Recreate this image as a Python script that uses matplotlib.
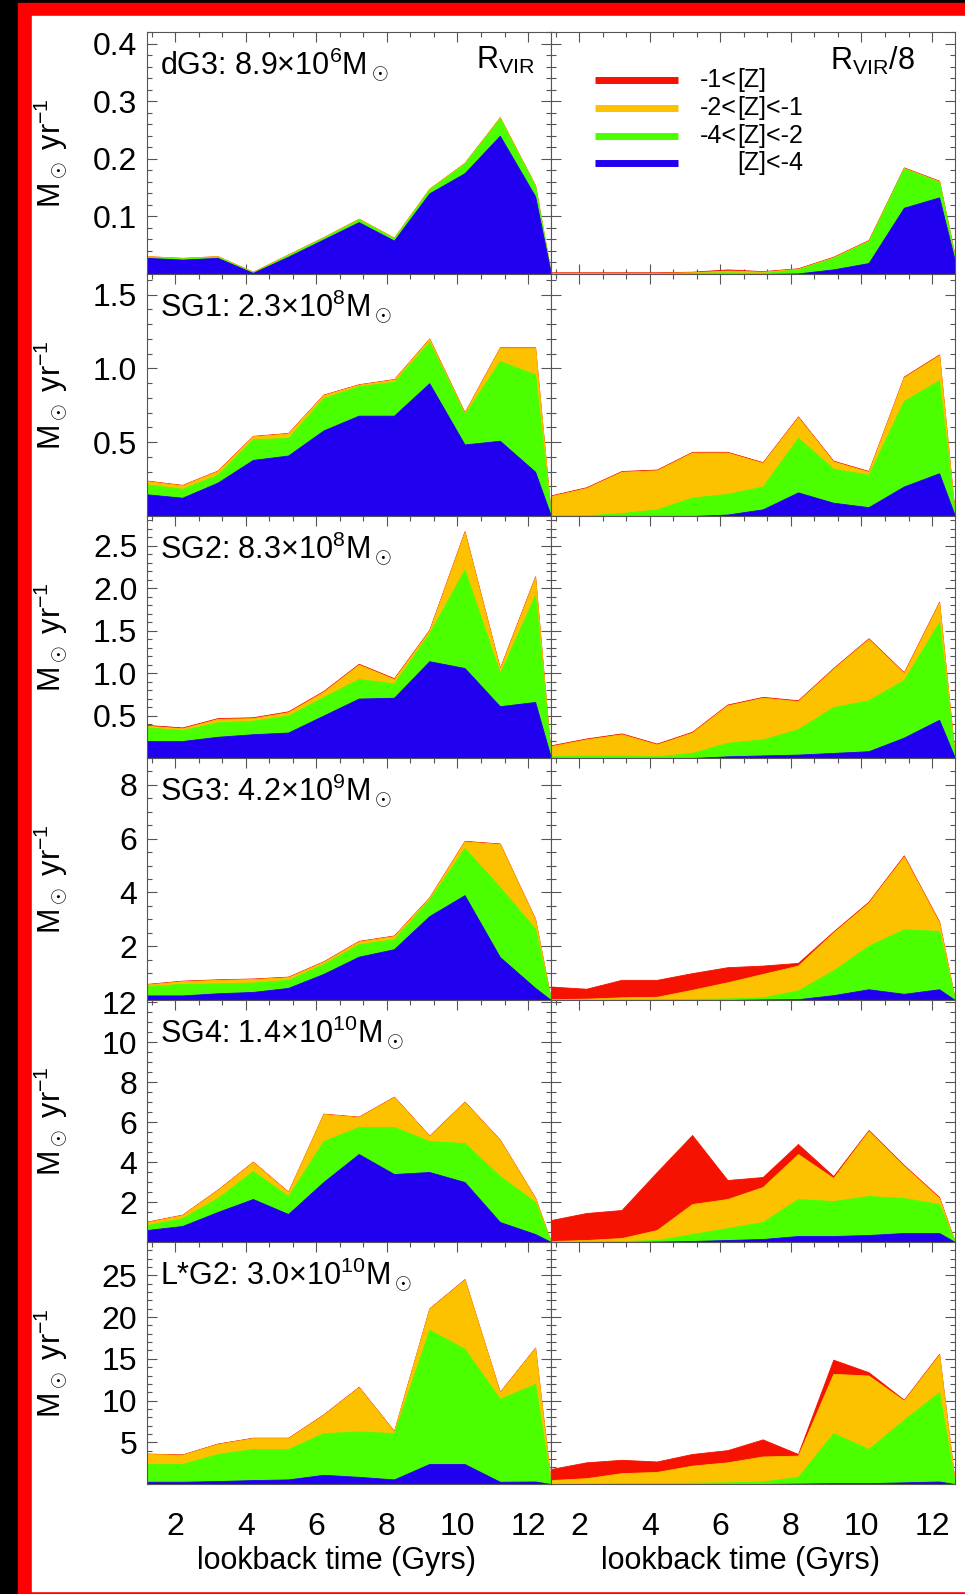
import matplotlib
matplotlib.use('Agg')
import matplotlib.pyplot as plt
from matplotlib.patches import Rectangle
from matplotlib.ticker import MultipleLocator, FixedLocator

plt.rcParams['font.family'] = ['Liberation Sans', 'DejaVu Sans']
plt.rcParams['mathtext.fontset'] = 'custom'
plt.rcParams['mathtext.rm'] = 'Liberation Sans'
plt.rcParams['mathtext.it'] = 'Liberation Sans:italic'
plt.rcParams['mathtext.bf'] = 'Liberation Sans:bold'

# lookback time of each output (Gyr)
t = [1.2, 2.2, 3.2, 4.2, 5.2, 6.2, 7.2, 8.2, 9.2, 10.2, 11.2, 12.2, 12.65]

# cumulative tops of each metallicity band: blue ([Z]<-4), green, orange, red
dg3_vir_blue = [0.028, 0.025, 0.028, 0.002, 0.030, 0.060, 0.090, 0.058, 0.140, 0.175, 0.240, 0.135, 0]
dg3_vir_green = [0.030, 0.027, 0.030, 0.003, 0.033, 0.063, 0.095, 0.062, 0.147, 0.192, 0.270, 0.152, 0]
dg3_vir_orange = [0.031, 0.028, 0.031, 0.004, 0.034, 0.064, 0.096, 0.063, 0.148, 0.193, 0.272, 0.154, 0]
dg3_vir_red = [0.031, 0.028, 0.031, 0.004, 0.034, 0.064, 0.096, 0.063, 0.148, 0.193, 0.272, 0.154, 0]
dg3_in_blue = [0, 0, 0, 0, 0, 0, 0, 0.001, 0.008, 0.019, 0.115, 0.133, 0.022]
dg3_in_green = [0.001, 0.001, 0.001, 0.001, 0.002, 0.003, 0.002, 0.008, 0.028, 0.057, 0.183, 0.160, 0.028]
dg3_in_orange = [0.002, 0.002, 0.002, 0.002, 0.003, 0.006, 0.004, 0.009, 0.029, 0.058, 0.184, 0.161, 0.029]
dg3_in_red = [0.003, 0.003, 0.003, 0.003, 0.004, 0.008, 0.005, 0.010, 0.030, 0.059, 0.185, 0.162, 0.030]

sg1_vir_blue = [0.147, 0.124, 0.226, 0.38, 0.41, 0.58, 0.68, 0.68, 0.90, 0.485, 0.51, 0.30, 0]
sg1_vir_green = [0.214, 0.185, 0.28, 0.52, 0.53, 0.80, 0.88, 0.91, 1.18, 0.69, 1.05, 0.96, 0]
sg1_vir_orange = [0.237, 0.208, 0.305, 0.54, 0.56, 0.82, 0.89, 0.925, 1.20, 0.70, 1.14, 1.14, 0]
sg1_vir_red = [0.240, 0.211, 0.308, 0.543, 0.563, 0.823, 0.893, 0.928, 1.203, 0.703, 1.143, 1.143, 0]
sg1_in_blue = [0, 0, 0, 0, 0, 0.01, 0.045, 0.16, 0.09, 0.06, 0.20, 0.29, 0]
sg1_in_green = [0.003, 0.005, 0.02, 0.045, 0.125, 0.15, 0.20, 0.53, 0.32, 0.28, 0.78, 0.92, 0]
sg1_in_orange = [0.135, 0.19, 0.30, 0.31, 0.43, 0.43, 0.36, 0.67, 0.37, 0.30, 0.94, 1.09, 0]
sg1_in_red = [0.14, 0.195, 0.305, 0.315, 0.435, 0.435, 0.365, 0.675, 0.375, 0.305, 0.945, 1.095, 0]

sg2_vir_blue = [0.20, 0.20, 0.25, 0.28, 0.30, 0.50, 0.70, 0.71, 1.14, 1.06, 0.61, 0.66, 0]
sg2_vir_green = [0.36, 0.33, 0.42, 0.44, 0.50, 0.72, 0.93, 0.88, 1.47, 2.22, 1.00, 1.92, 0]
sg2_vir_orange = [0.38, 0.35, 0.46, 0.47, 0.54, 0.78, 1.10, 0.93, 1.50, 2.66, 1.05, 2.13, 0]
sg2_vir_red = [0.39, 0.36, 0.47, 0.48, 0.55, 0.79, 1.11, 0.94, 1.51, 2.67, 1.06, 2.14, 0]
sg2_in_blue = [0, 0, 0, 0, 0, 0.02, 0.03, 0.04, 0.06, 0.08, 0.24, 0.45, 0]
sg2_in_green = [0.02, 0.03, 0.03, 0.02, 0.06, 0.18, 0.22, 0.34, 0.60, 0.68, 0.92, 1.60, 0]
sg2_in_orange = [0.14, 0.22, 0.28, 0.16, 0.30, 0.62, 0.71, 0.67, 1.05, 1.40, 1.00, 1.83, 0]
sg2_in_red = [0.15, 0.23, 0.29, 0.17, 0.31, 0.63, 0.72, 0.68, 1.06, 1.41, 1.01, 1.84, 0]

sg3_vir_blue = [0.17, 0.17, 0.25, 0.30, 0.45, 0.97, 1.61, 1.89, 3.12, 3.90, 1.60, 0.45, 0]
sg3_vir_green = [0.52, 0.60, 0.62, 0.65, 0.75, 1.34, 2.08, 2.26, 3.74, 5.65, 4.20, 2.65, 0]
sg3_vir_orange = [0.58, 0.70, 0.75, 0.78, 0.85, 1.42, 2.18, 2.38, 3.80, 5.90, 5.80, 3.00, 0]
sg3_vir_red = [0.60, 0.72, 0.77, 0.80, 0.87, 1.44, 2.20, 2.40, 3.82, 5.92, 5.82, 3.02, 0]
sg3_in_blue = [0, 0, 0, 0, 0, 0, 0.02, 0.03, 0.18, 0.40, 0.23, 0.40, 0]
sg3_in_green = [0, 0, 0.01, 0.02, 0.04, 0.06, 0.10, 0.36, 1.10, 2.02, 2.63, 2.57, 0]
sg3_in_orange = [0.03, 0.05, 0.10, 0.12, 0.38, 0.66, 0.97, 1.28, 2.51, 3.62, 5.34, 2.88, 0]
sg3_in_red = [0.50, 0.42, 0.75, 0.75, 1.00, 1.22, 1.28, 1.38, 2.55, 3.66, 5.38, 2.92, 0]

sg4_vir_blue = [0.6, 0.8, 1.5, 2.15, 1.4, 3.0, 4.4, 3.4, 3.5, 3.0, 1.0, 0.4, 0]
sg4_vir_green = [0.85, 1.2, 2.2, 3.55, 2.3, 5.05, 5.75, 5.75, 5.05, 4.95, 3.3, 2.0, 0]
sg4_vir_orange = [1.0, 1.35, 2.6, 4.0, 2.5, 6.4, 6.25, 7.25, 5.3, 7.0, 5.1, 2.2, 0]
sg4_vir_red = [1.02, 1.37, 2.62, 4.02, 2.52, 6.42, 6.27, 7.27, 5.32, 7.02, 5.12, 2.22, 0]
sg4_in_blue = [0, 0, 0, 0.02, 0.05, 0.1, 0.15, 0.3, 0.3, 0.35, 0.45, 0.45, 0]
sg4_in_green = [0, 0.02, 0.05, 0.1, 0.4, 0.7, 1.0, 2.15, 2.05, 2.3, 2.2, 1.9, 0]
sg4_in_orange = [0.05, 0.1, 0.2, 0.6, 1.9, 2.15, 2.75, 4.4, 3.2, 5.55, 3.8, 2.2, 0]
sg4_in_red = [1.1, 1.45, 1.6, 3.5, 5.35, 3.1, 3.25, 4.9, 3.3, 5.6, 3.85, 2.25, 0]

lg2_vir_blue = [0.27, 0.27, 0.35, 0.47, 0.55, 1.1, 0.86, 0.55, 2.4, 2.4, 0.27, 0.3, 0]
lg2_vir_green = [2.4, 2.4, 3.6, 4.2, 4.2, 6.1, 6.3, 6.1, 18.5, 16.2, 10.2, 12.0, 0]
lg2_vir_orange = [3.6, 3.5, 4.8, 5.5, 5.5, 8.3, 11.6, 6.3, 21.0, 24.5, 11.0, 16.3, 0]
lg2_vir_red = [3.65, 3.55, 4.85, 5.55, 5.55, 8.35, 11.65, 6.35, 21.05, 24.55, 11.05, 16.35, 0]
lg2_in_blue = [0, 0, 0, 0, 0, 0, 0, 0.05, 0.1, 0.1, 0.2, 0.3, 0]
lg2_in_green = [0.02, 0.05, 0.1, 0.1, 0.15, 0.2, 0.3, 0.86, 6.1, 4.2, 7.7, 11.0, 0]
lg2_in_orange = [0.47, 0.7, 1.3, 1.45, 2.2, 2.6, 3.3, 3.4, 13.2, 13.0, 10.0, 15.5, 0]
lg2_in_red = [1.8, 2.6, 2.9, 2.7, 3.6, 4.06, 5.35, 3.6, 14.9, 13.4, 10.1, 15.6, 0]

names = ['dG3: 8.9$\\times$10$^6$M$_\\odot$',
         'SG1: 2.3$\\times$10$^8$M$_\\odot$',
         'SG2: 8.3$\\times$10$^8$M$_\\odot$',
         'SG3: 4.2$\\times$10$^9$M$_\\odot$',
         'SG4: 1.4$\\times$10$^{10}$M$_\\odot$',
         'L*G2: 3.0$\\times$10$^{10}$M$_\\odot$']
ytop = [0.42, 1.64, 2.85, 9.0, 12.1, 29.0]
yticks = [[0.1, 0.2, 0.3, 0.4], [0.5, 1.0, 1.5], [0.5, 1.0, 1.5, 2.0, 2.5],
          [2, 4, 6, 8], [2, 4, 6, 8, 10, 12], [5, 10, 15, 20, 25]]
ytlabels = [['0.1', '0.2', '0.3', '0.4'], ['0.5', '1.0', '1.5'],
            ['0.5', '1.0', '1.5', '2.0', '2.5'], ['2', '4', '6', '8'],
            ['2', '4', '6', '8', '10', '12'], ['5', '10', '15', '20', '25']]
yminor = [0.02, 0.1, 0.1, 0.5, 0.5, 1.0]

vir = [[dg3_vir_blue, dg3_vir_green, dg3_vir_orange, dg3_vir_red],
       [sg1_vir_blue, sg1_vir_green, sg1_vir_orange, sg1_vir_red],
       [sg2_vir_blue, sg2_vir_green, sg2_vir_orange, sg2_vir_red],
       [sg3_vir_blue, sg3_vir_green, sg3_vir_orange, sg3_vir_red],
       [sg4_vir_blue, sg4_vir_green, sg4_vir_orange, sg4_vir_red],
       [lg2_vir_blue, lg2_vir_green, lg2_vir_orange, lg2_vir_red]]
inner = [[dg3_in_blue, dg3_in_green, dg3_in_orange, dg3_in_red],
         [sg1_in_blue, sg1_in_green, sg1_in_orange, sg1_in_red],
         [sg2_in_blue, sg2_in_green, sg2_in_orange, sg2_in_red],
         [sg3_in_blue, sg3_in_green, sg3_in_orange, sg3_in_red],
         [sg4_in_blue, sg4_in_green, sg4_in_orange, sg4_in_red],
         [lg2_in_blue, lg2_in_green, lg2_in_orange, lg2_in_red]]

colors = ['#2100f0', '#4cff00', '#fcc200', '#f51200']
leg_labels = [('-1<', '[Z]'), ('-2<', '[Z]<-1'), ('-4<', '[Z]<-2'), ('', '[Z]<-4')]

W, H = 965, 1594
fig = plt.figure(figsize=(W / 100, H / 100), dpi=100, facecolor='black')
fig.patches.append(Rectangle((18 / W, 0), 947 / W, 1591 / H, transform=fig.transFigure,
                             figure=fig, color='#ff0000', zorder=-3))
fig.patches.append(Rectangle((32 / W, 3 / H), 933 / W, 1575 / H, transform=fig.transFigure,
                             figure=fig, color='white', zorder=-2))

left_x = [147, 551]
pw, ph = 404, 242
top0 = 32
fs = 22
axc = '#555555'

for i in range(6):
    for j in range(2):
        top = top0 + i * ph
        ax = fig.add_axes([left_x[j] / W, 1 - (top + ph) / H, pw / W, ph / H])
        tops = vir[i] if j == 0 else inner[i]
        for k in reversed(range(4)):
            ax.fill_between(t, 0, tops[k], facecolor=colors[k], edgecolor=colors[k],
                            lw=0.6, zorder=2)
        ax.set_xlim(1.2, 12.65)
        ax.set_ylim(0, ytop[i])
        ax.xaxis.set_major_locator(FixedLocator([2, 4, 6, 8, 10, 12]))
        ax.xaxis.set_minor_locator(MultipleLocator(2 / 3))
        ax.yaxis.set_major_locator(FixedLocator(yticks[i]))
        ax.yaxis.set_minor_locator(MultipleLocator(yminor[i]))
        ax.tick_params(which='both', direction='in', top=True, right=True,
                       color=axc, width=0.8, labelsize=23, zorder=5)
        ax.tick_params(which='major', length=7)
        ax.tick_params(which='minor', length=3.5)
        ax.tick_params(axis='x', pad=20)
        ax.tick_params(axis='y', pad=7)
        for s in ax.spines.values():
            s.set_color(axc)
            s.set_linewidth(0.8)
            s.set_zorder(5)
        if j == 0:
            ax.set_yticklabels(ytlabels[i])
            ax.set_ylabel('M$_\\odot$ yr$^{-1}$', fontsize=fs)
            ax.yaxis.set_label_coords(-0.19, 0.5)
            ax.text(0.032, 0.945, names[i], transform=ax.transAxes, fontsize=fs,
                    ha='left', va='top', zorder=6)
        else:
            ax.set_yticklabels([])
        if i < 5:
            ax.set_xticklabels([])
        else:
            ax.set_xticklabels(['2', '4', '6', '8', '10', '12'])
            ax.set_xlabel('lookback time (Gyrs)', fontsize=fs)
            ax.xaxis.set_label_coords(0.47, -0.255)
        if i == 0:
            if j == 0:
                ax.text(0.96, 0.945, 'R$_{\\rm VIR}$', transform=ax.transAxes,
                        fontsize=fs, ha='right', va='top')
            else:
                ax.text(0.90, 0.945, 'R$_{\\rm VIR}$/8', transform=ax.transAxes,
                        fontsize=fs, ha='right', va='top')
                ly = [0.802, 0.686, 0.570, 0.458]
                for k in range(4):
                    ax.plot([0.109, 0.314], [ly[k], ly[k]], color=colors[3 - k], lw=5,
                            transform=ax.transAxes, solid_capstyle='butt')
                    pre, post = leg_labels[k]
                    ax.text(0.46, ly[k], pre, transform=ax.transAxes, fontsize=18,
                            ha='right', va='center')
                    ax.text(0.46, ly[k], post, transform=ax.transAxes, fontsize=18,
                            ha='left', va='center')

fig.savefig('out.png', dpi=100, facecolor='black')
